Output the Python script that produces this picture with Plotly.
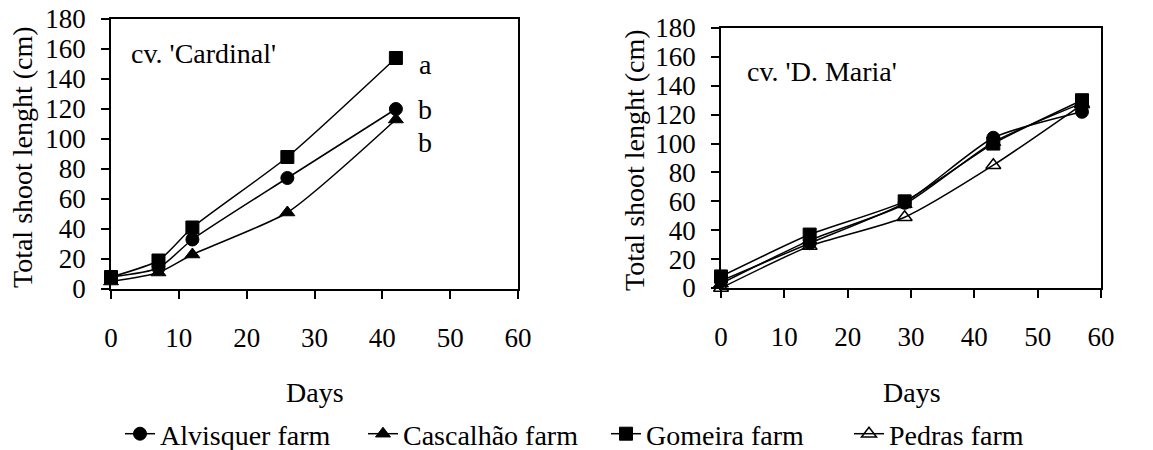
import plotly.graph_objects as go

# ---- data ----
days_cardinal = [0, 7, 12, 26, 42]
days_dmaria = [0, 14, 29, 43, 57]

cardinal_alvisquer = [8, 14, 33, 74, 120]
cardinal_cascalhao = [5, 11, 23, 51, 113]
cardinal_gomeira = [8, 19, 41, 88, 154]

dmaria_alvisquer = [5, 31, 59, 104, 122]
dmaria_cascalhao = [3, 33, 58, 101, 128]
dmaria_gomeira = [8, 37, 60, 100, 130]
dmaria_pedras = [0, 29, 49, 85, 127]

series_names = ["Alvisquer farm", "Cascalhão farm", "Gomeira farm", "Pedras farm"]
letters = ["a", "b", "b"]
letter_y = [150, 120, 98]
x_ticks = [0, 10, 20, 30, 40, 50, 60]
y_ticks = [0, 20, 40, 60, 80, 100, 120, 140, 160, 180]

FONT = "Liberation Serif"
FS = 28
TFS = 27

# page body has an 8px margin; figure sized so it fits in the window
OFF = 8
W, H = 1153 - OFF, 450 - OFF


def px(x):
    return (x - OFF) / W


def py(y):
    return 1 - (y - OFF) / H


styles = {
    "Alvisquer farm": dict(symbol="circle", size=13, color="black", line=dict(color="black", width=1)),
    "Cascalhão farm": dict(symbol="triangle-up", size=13, color="black", line=dict(color="black", width=1)),
    "Gomeira farm": dict(symbol="square", size=13, color="black", line=dict(color="black", width=1)),
    "Pedras farm": dict(symbol="triangle-up-open", size=13, color="black", line=dict(color="black", width=1.5)),
}

fig = go.Figure()

left = {"Alvisquer farm": cardinal_alvisquer, "Cascalhão farm": cardinal_cascalhao,
        "Gomeira farm": cardinal_gomeira}
right = {"Alvisquer farm": dmaria_alvisquer, "Cascalhão farm": dmaria_cascalhao,
         "Gomeira farm": dmaria_gomeira, "Pedras farm": dmaria_pedras}

for name in series_names:
    if name in left:
        fig.add_trace(go.Scatter(
            x=days_cardinal, y=left[name], mode="lines+markers", name=name,
            line=dict(color="black", width=1.5, shape="spline", smoothing=0.6),
            marker=styles[name], xaxis="x", yaxis="y", cliponaxis=False,
            showlegend=False))
for name in series_names:
    fig.add_trace(go.Scatter(
        x=days_dmaria, y=right[name], mode="lines+markers", name=name,
        line=dict(color="black", width=1.5, shape="spline", smoothing=0.6),
        marker=styles[name], xaxis="x2", yaxis="y2", cliponaxis=False,
        showlegend=True))

axis_common = dict(
    showgrid=False, zeroline=False, showline=True, linecolor="black", linewidth=1.5,
    mirror=True, ticks="outside", ticklen=8, tickwidth=1.5, tickcolor="black",
    automargin=False, ticklabeloverflow="allow",
    tickfont=dict(family=FONT, size=TFS, color="black"),
)

fig.update_layout(
    width=W, height=H,
    margin=dict(l=0, r=0, t=0, b=0, autoexpand=False),
    paper_bgcolor="white", plot_bgcolor="white",
    font=dict(family=FONT, size=FS, color="black"),
    xaxis=dict(domain=[px(111), px(518)], range=[0, 60], tickvals=x_ticks,
               anchor="y", ticklabelstandoff=16, **axis_common),
    yaxis=dict(domain=[py(289), py(19)], range=[0, 180], tickvals=y_ticks,
               anchor="x", ticklabelstandoff=10, **axis_common),
    xaxis2=dict(domain=[px(721), px(1101)], range=[0, 60], tickvals=x_ticks,
                anchor="y2", ticklabelstandoff=16, **axis_common),
    yaxis2=dict(domain=[py(288), py(28)], range=[0, 180], tickvals=y_ticks,
                anchor="x2", ticklabelstandoff=10, **axis_common),
    legend=dict(orientation="h", x=px(120), xanchor="left", xref="paper",
                y=py(434), yanchor="middle", yref="paper",
                font=dict(family=FONT, size=FS, color="black"),
                itemwidth=30, entrywidth=198, entrywidthmode="pixels",
                tracegroupgap=0, bgcolor="rgba(0,0,0,0)"),
    showlegend=True,
)

annotations = [
    dict(text="cv. 'Cardinal'", x=2.6, y=157, xref="x", yref="y", xanchor="left",
         yanchor="middle", showarrow=False, font=dict(family=FONT, size=FS)),
    dict(text="cv. 'D. Maria'", x=3.8, y=150, xref="x2", yref="y2", xanchor="left",
         yanchor="middle", showarrow=False, font=dict(family=FONT, size=FS)),
    dict(text="Total shoot lenght (cm)", x=px(22), y=py(157), xref="paper", yref="paper",
         xanchor="center", yanchor="middle",
         textangle=-90, showarrow=False, font=dict(family=FONT, size=FS)),
    dict(text="Total shoot lenght (cm)", x=px(634), y=py(160), xref="paper", yref="paper",
         xanchor="center", yanchor="middle",
         textangle=-90, showarrow=False, font=dict(family=FONT, size=FS)),
    dict(text="Days", x=px(315), y=py(392), xref="paper", yref="paper",
         xanchor="center", yanchor="middle",
         showarrow=False, font=dict(family=FONT, size=FS)),
    dict(text="Days", x=px(912), y=py(392), xref="paper", yref="paper",
         xanchor="center", yanchor="middle",
         showarrow=False, font=dict(family=FONT, size=FS)),
]
for t, yv in zip(letters, letter_y):
    annotations.append(dict(text=t, x=46.3, y=yv, xref="x", yref="y", showarrow=False,
                            xanchor="center", yanchor="middle",
                            font=dict(family=FONT, size=FS)))
fig.update_layout(annotations=annotations)

fig.write_html("out.html")
